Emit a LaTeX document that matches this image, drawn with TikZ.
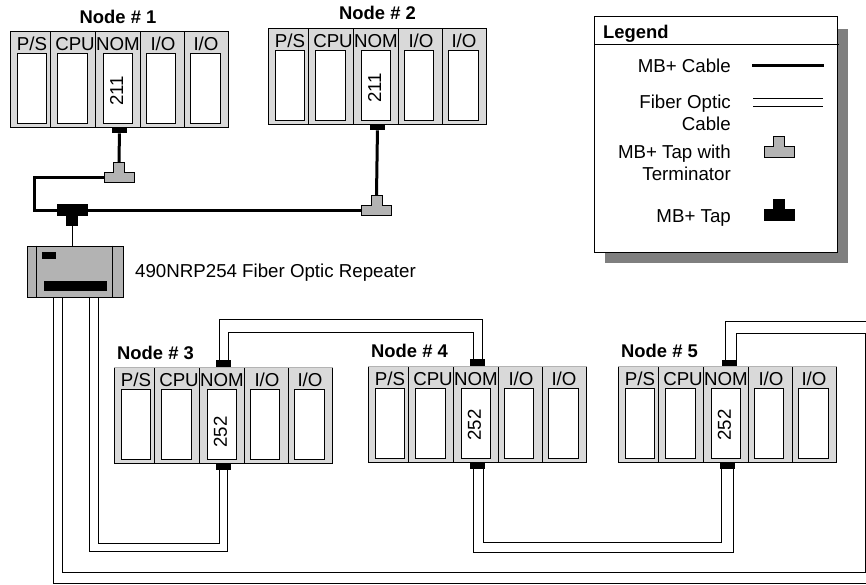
\documentclass[tikz,border=0pt]{standalone}
\usepackage{fontspec}
\setmainfont{Liberation Sans}
\usetikzlibrary{calc}
\definecolor{rackgray}{RGB}{217,217,217}
\definecolor{tapgray}{RGB}{179,179,179}
\definecolor{shadowgray}{RGB}{127,127,127}

\begin{document}
\begin{tikzpicture}[
    x=1pt, y=-1pt,
    txt/.style={inner sep=0pt, font=\fontsize{18.7}{22}\selectfont},
    title/.style={txt, font=\fontsize{18.4}{22}\selectfont\bfseries, anchor=base west},
    slot/.style={draw=black, fill=rackgray, line width=1pt, anchor=north west,
                 inner sep=0pt, minimum height=96pt},
    win/.style={draw=black, fill=white, line width=1pt, anchor=north west,
                inner sep=0pt, minimum height=70pt},
    port/.style={fill=black, inner sep=0pt, minimum width=15pt, minimum height=6.5pt},
    block/.style={fill=black, inner sep=0pt, anchor=north west},
    cable/.style={line width=3pt, line join=miter},
    fiber/.style={line width=1pt, line join=miter},
    graytap/.style={draw=black, fill=tapgray, line width=1pt},
    blacktap/.style={draw=black, fill=black, line width=1pt},
    tap/.pic={
      \path[pic actions] (-15,5.5) -- (15,5.5) -- (15,-5) -- (5.5,-5) -- (5.5,-15)
        -- (-5.5,-15) -- (-5.5,-5) -- (-15,-5) -- cycle;
      \coordinate (-west) at (-15,0);
      \coordinate (-east) at (15,0);
      \coordinate (-stem) at (0,-15);
    }
  ]
    \useasboundingbox (0,0) rectangle (866,584);

    \foreach \n/\x/\y/\code/\cy in {1/10/31/211/60, 2/268/28/211/60, 3/114/367/252/65, 4/368/366/252/59, 5/618/366/252/59} {
      \foreach \s/\ox/\w/\wx/\ww/\lx/\lab in {1/0/40/7/29/22/P\slash S, 2/40/45/47/30/65/CPU, 3/85/45/93/29/108/NOM,
                                             4/130/44/136/29/153/I\slash O, 5/174/44/180/30/196/I\slash O} {
        \node[slot, minimum width=\w pt] (rack\n-\s) at (\x+\ox,\y) {};
        \node[win, minimum width=\ww pt] (win\n-\s) at (\x+\wx,\y+22) {};
        \node[txt, anchor=base] (lab\n-\s) at (\x+\lx,\y+19) {\lab};
      }
      \node[txt, rotate=90] (code\n) at (\x+106.5,\y+\cy) {\code};
    }
    \foreach \n in {3,4,5}
      \draw[line width=1pt, tapgray] (rack\n-1.north west) -- (rack\n-5.north east);

    \node[title] (node1) at (79.5,23) {Node \# 1};
    \node[title] (node2) at (339,19) {Node \# 2};
    \node[title] (node3) at (117,359) {Node \# 3};
    \node[title] (node4) at (371,357) {Node \# 4};
    \node[title] (node5) at (621,357) {Node \# 5};

    \node[port] (p1) at (119.5,130) {};
    \node[port] (p2) at (377.5,127) {};
    \node[port] (p3t) at (223.5,363.5) {};
    \node[port] (p3b) at (223.5,467) {};
    \node[port] (p4t) at (477.5,362.5) {};
    \node[port] (p4b) at (477.5,465.5) {};
    \node[port] (p5t) at (729.5,363) {};
    \node[port] (p5b) at (727.5,465.5) {};

    \node[draw=black, fill=tapgray, line width=1pt, inner sep=0pt, minimum width=96pt, minimum height=51pt] (rep) at (75,271.5) {};
    \draw[line width=1pt] ([xshift=10pt]rep.north west) -- ([xshift=10pt]rep.south west);
    \draw[line width=1pt] ([xshift=-11pt]rep.north east) -- ([xshift=-11pt]rep.south east);
    \node[block, minimum width=14pt, minimum height=7pt] (repled) at (42,252) {};
    \node[block, minimum width=63pt, minimum height=10pt] (repbar) at (44,281) {};
    \node[txt, anchor=base west] (replab) at (135,277) {490NRP254 Fiber Optic Repeater};

    \pic[graytap] (t1) at (119,177) {tap};
    \pic[graytap] (t2) at (376.5,210) {tap};
    \pic[blacktap, yscale=-1] (main) at (72,210) {tap};

    \coordinate (turn) at (34.5,210);
    \draw[cable] (p1) -- (t1-stem);
    \draw[cable] (t1-west) -| (turn) -- (main-west);
    \draw[cable] (main-east) -- (t2-west);
    \draw[cable] (p2) -- (t2-stem);
    \draw[line width=1pt] (main-stem) -- (main-stem |- rep.north);

    \coordinate (edgetop) at (866,321);
    \coordinate (edgebot) at (866,583);
    \coordinate (backb) at (865,572);
    \coordinate (backt) at (865,333);

    \draw[fiber] ([xshift=14pt]rep.south) -- ++(0,254) -| ([xshift=4pt]p3b.south);
    \draw[fiber] ([xshift=23pt]rep.south) -- ++(0,246) -| ([xshift=-4.5pt]p3b.south);
    \draw[fiber] ([xshift=-4.5pt]p3t.north) -- ++(0,-41) -| ([xshift=4.5pt]p4t.north);
    \draw[fiber] ([xshift=4.5pt]p3t.north) -- ++(0,-28) -| ([xshift=-4.5pt]p4t.north);
    \draw[fiber] ([xshift=-4.5pt]p4b.south) -- ++(0,84) -| ([xshift=5.5pt]p5b.south);
    \draw[fiber] ([xshift=5.5pt]p4b.south) -- ++(0,74) -| ([xshift=-6.5pt]p5b.south);
    \draw[fiber] ([xshift=-4.5pt]p5t.north) |- (edgetop);
    \draw[fiber] ([xshift=-22pt]rep.south) |- (edgebot);
    \draw[fiber] ([xshift=-13pt]rep.south) |- (backb) -- (backt) -| ([xshift=6.5pt]p5t.north);

    \node[fill=shadowgray, inner sep=0pt, anchor=north west, minimum width=243pt, minimum height=234pt] (legshadow) at (605,29) {};
    \node[draw=black, fill=white, line width=1pt, inner sep=0pt, anchor=north west, minimum width=243pt, minimum height=236pt] (legend) at (594,16) {};
    \draw[line width=1pt] ([yshift=-28pt]legend.north west) -- ([yshift=-28pt,xshift=1pt]legend.north east);
    \node[title] (legtitle) at (603,38) {Legend};

    \node[txt, anchor=base east] (legmb) at (731,72) {MB+ Cable};
    \node[txt, anchor=north east, align=right] (legfo) at (731,95) {Fiber Optic\\Cable};
    \node[txt, anchor=north east, align=right] (legterm) at (731,145) {MB+ Tap with\\Terminator};
    \node[txt, anchor=base east] (legtap) at (731,222) {MB+ Tap};

    \coordinate (mba) at (752,65);
    \coordinate (mbb) at (824,65);
    \coordinate (foa) at (753,98);
    \coordinate (fob) at (823,98);
    \coordinate (foc) at (753,106);
    \coordinate (fod) at (823,106);
    \draw[cable] (mba) -- (mbb);
    \draw[fiber] (foa) -- (fob);
    \draw[fiber] (foc) -- (fod);
    \pic[graytap] (legt) at (779,151.5) {tap};
    \pic[blacktap] (legb) at (779,214.5) {tap};
  \end{tikzpicture}
\end{document}
